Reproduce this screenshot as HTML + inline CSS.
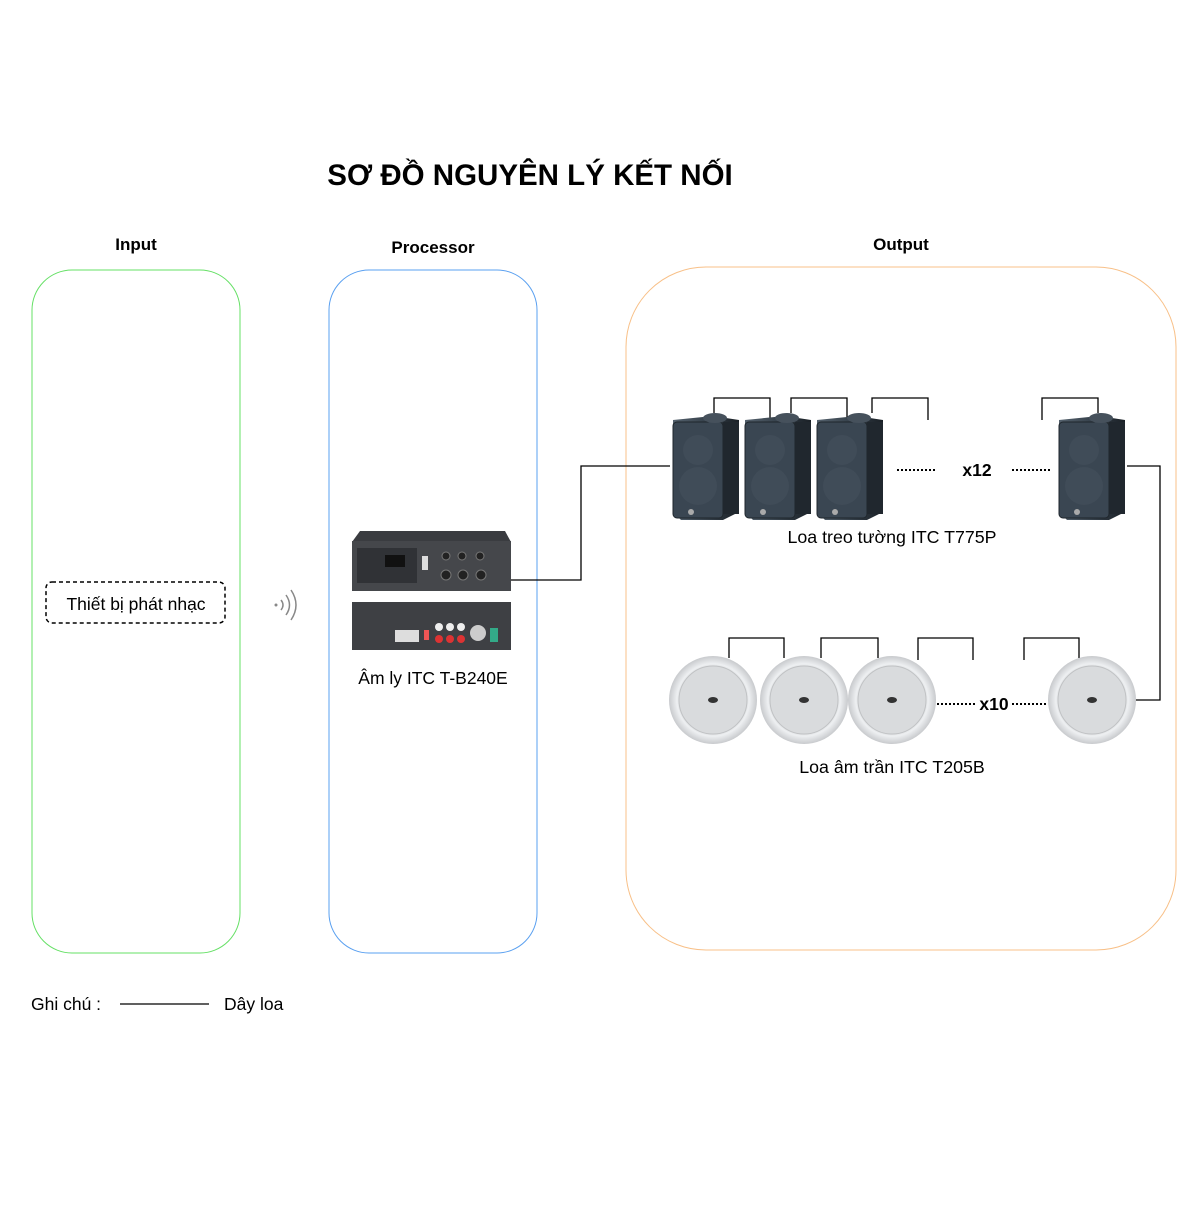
<!DOCTYPE html>
<html><head><meta charset="utf-8"><style>
body{margin:0;background:#fff}
text{font-family:"Liberation Sans",sans-serif}
</style></head><body>
<svg width="1201" height="1201" viewBox="0 0 1201 1201" xmlns="http://www.w3.org/2000/svg">
<defs>
<linearGradient id="ws" x1="0" x2="1"><stop offset="0" stop-color="#55626e"/><stop offset="0.5" stop-color="#36414b"/><stop offset="1" stop-color="#1a2026"/></linearGradient>
<radialGradient id="cs"><stop offset="0.75" stop-color="#d8dadc"/><stop offset="0.82" stop-color="#eef0f2"/><stop offset="1" stop-color="#c8cacd"/></radialGradient>
<g id="wall">
<path d="M2 8 L42 4 L68 8 L68 100 L52 108 L10 108 L2 100 Z" fill="url(#ws)"/>
<rect x="2" y="10" width="50" height="96" rx="4" fill="#3a4652" stroke="#1f262c"/>
<circle cx="27" cy="38" r="15" fill="#404c58"/><circle cx="27" cy="74" r="19" fill="#404c58"/>
<rect x="52" y="10" width="16" height="92" fill="#20272e"/>
<ellipse cx="44" cy="6" rx="12" ry="5" fill="#46515c"/>
<circle cx="20" cy="100" r="3" fill="#aaa"/>
</g>
<g id="ceil">
<circle r="44" fill="url(#cs)"/>
<circle r="34" fill="#d9dbdd" stroke="#c0c2c4"/>
<ellipse rx="5" ry="3" fill="#333"/>
</g>
</defs>
<text x="530" y="185" font-size="29.5" font-weight="bold" text-anchor="middle">SƠ ĐỒ NGUYÊN LÝ KẾT NỐI</text>
<text x="136" y="250" font-size="17" font-weight="bold" text-anchor="middle">Input</text>
<text x="433" y="253" font-size="17" font-weight="bold" text-anchor="middle">Processor</text>
<text x="901" y="250" font-size="17" font-weight="bold" text-anchor="middle">Output</text>
<rect x="32" y="270" width="208" height="683" rx="40" fill="none" stroke="#66e066"/>
<rect x="329" y="270" width="208" height="683" rx="40" fill="none" stroke="#5aa0f0"/>
<rect x="626" y="267" width="550" height="683" rx="80" fill="none" stroke="#f8c088"/>
<rect x="46" y="582" width="179" height="41" rx="6" fill="none" stroke="#000" stroke-width="1.5" stroke-dasharray="4,3"/>
<text x="136" y="610" font-size="17.5" text-anchor="middle">Thiết bị phát nhạc</text>
<g fill="none" stroke="#888" stroke-width="1.5"><path d="M281 600 q4 5 0 10"/><path d="M286 595 q7 10 0 20"/><path d="M291 590 q10 15 0 30"/></g>
<circle cx="276" cy="605" r="1.5" fill="#888"/>
<!-- amp -->
<path d="M352 542 L360 531 L505 531 L511 542 Z" fill="#3a3c40"/>
<rect x="352" y="541" width="159" height="50" fill="#45474b"/>
<rect x="357" y="548" width="60" height="35" fill="#303236"/>
<rect x="385" y="555" width="20" height="12" fill="#111"/>
<rect x="422" y="556" width="6" height="14" fill="#ddd"/>
<g fill="#222" stroke="#777"><circle cx="446" cy="556" r="4"/><circle cx="462" cy="556" r="4"/><circle cx="480" cy="556" r="4"/><circle cx="446" cy="575" r="5"/><circle cx="463" cy="575" r="5"/><circle cx="481" cy="575" r="5"/></g>
<rect x="352" y="602" width="159" height="48" fill="#3e4044"/>
<rect x="395" y="630" width="24" height="12" fill="#ddd"/>
<g fill="#eee"><circle cx="439" cy="627" r="4"/><circle cx="450" cy="627" r="4"/><circle cx="461" cy="627" r="4"/></g>
<g fill="#d33"><circle cx="439" cy="639" r="4"/><circle cx="450" cy="639" r="4"/><circle cx="461" cy="639" r="4"/></g>
<circle cx="478" cy="633" r="8" fill="#ccc"/>
<rect x="490" y="628" width="8" height="14" fill="#3a8"/>
<rect x="424" y="630" width="5" height="10" fill="#e55"/>
<text x="433" y="684" font-size="17.5" text-anchor="middle">Âm ly ITC T-B240E</text>
<!-- wires -->
<g fill="none" stroke="#000" stroke-width="1.3">
<path d="M511 580 H581 V466 H670"/>
<path d="M1127 466 H1160 V700 H1135"/>
<path d="M714 413 V398 H770 V418"/>
<path d="M791 413 V398 H847 V418"/>
<path d="M872 413 V398 H928 V420"/>
<path d="M1042 420 V398 H1098 V413"/>
<path d="M729 658 V638 H784 V658"/>
<path d="M821 658 V638 H878 V658"/>
<path d="M918 660 V638 H973 V660"/>
<path d="M1024 660 V638 H1079 V658"/>
</g>
<use href="#wall" x="671" y="412"/>
<use href="#wall" x="743" y="412"/>
<use href="#wall" x="815" y="412"/>
<use href="#wall" x="1057" y="412"/>
<g stroke="#000" stroke-width="2" stroke-dasharray="2,2"><path d="M897 470 H935"/><path d="M1012 470 H1050"/><path d="M937 704 H975"/><path d="M1012 704 H1048"/></g>
<text x="977" y="476" font-size="17.5" font-weight="bold" text-anchor="middle">x12</text>
<text x="994" y="710" font-size="17.5" font-weight="bold" text-anchor="middle">x10</text>
<text x="892" y="543" font-size="17.8" text-anchor="middle">Loa treo tường ITC T775P</text>
<use href="#ceil" x="713" y="700"/>
<use href="#ceil" x="804" y="700"/>
<use href="#ceil" x="892" y="700"/>
<use href="#ceil" x="1092" y="700"/>
<text x="892" y="773" font-size="17.8" text-anchor="middle">Loa âm trần ITC T205B</text>
<text x="31" y="1010" font-size="17.5">Ghi chú :</text>
<line x1="120" y1="1004" x2="209" y2="1004" stroke="#000" stroke-width="1.3"/>
<text x="224" y="1010" font-size="17.5">Dây loa</text>
</svg>
</body></html>
